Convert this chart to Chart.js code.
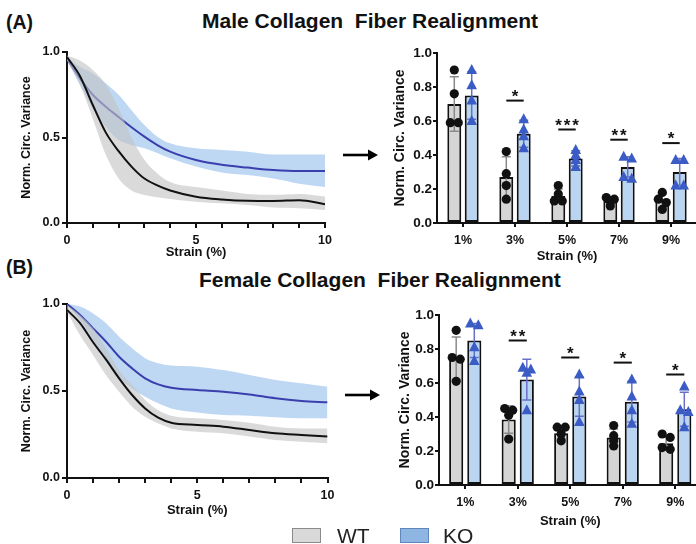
<!DOCTYPE html>
<html>
<head>
<meta charset="utf-8">
<script src="https://cdn.jsdelivr.net/npm/chart.js@4.4.1/dist/chart.umd.min.js"></script>
<style>
  html, body { margin:0; padding:0; }
  body { width:696px; height:544px; overflow:hidden; position:relative; background:#fff;
         font-family:'Liberation Sans', Arial, sans-serif; color:#111; }
  .abs { position:absolute; }
  .panel { position:absolute; font-weight:bold; font-size:19.5px; line-height:19.5px; white-space:nowrap; }
  .title { position:absolute; font-weight:bold; font-size:21px; line-height:21px; white-space:nowrap; }
  .legtxt { position:absolute; font-size:21px; line-height:21px; color:#222; }
  .box { position:absolute; width:27px; height:13px; }
  canvas { display:block; }
</style>
</head>
<body>
<div class="panel" style="left:6px;top:13px">(A)</div>
<div class="title" style="left:202px;top:10px">Male Collagen&nbsp; Fiber Realignment</div>
<div class="panel" style="left:6px;top:258px">(B)</div>
<div class="title" style="left:199px;top:269px">Female Collagen&nbsp; Fiber Realignment</div>

<div class="abs" style="left:0;top:40px;width:340px;height:230px"><canvas id="lineA" width="340" height="230"></canvas></div>
<div class="abs" style="left:340px;top:40px;width:358px;height:230px"><canvas id="barA" width="358" height="230"></canvas></div>
<div class="abs" style="left:0;top:290px;width:340px;height:230px"><canvas id="lineB" width="340" height="230"></canvas></div>
<div class="abs" style="left:340px;top:290px;width:362px;height:244px"><canvas id="barB" width="362" height="244"></canvas></div>

<svg class="abs" style="left:340px;top:148px" width="42" height="14">
  <line x1="3" y1="7" x2="30" y2="7" stroke="#000" stroke-width="2.6"/>
  <polygon points="28,1.5 38,7 28,12.5" fill="#000"/>
</svg>
<svg class="abs" style="left:342px;top:388px" width="42" height="14">
  <line x1="3" y1="7" x2="30" y2="7" stroke="#000" stroke-width="2.6"/>
  <polygon points="28,1.5 38,7 28,12.5" fill="#000"/>
</svg>

<div class="box" style="left:292px;top:528px;background:#d9d9d9;border:1px solid #8a8a8a"></div>
<div class="legtxt" style="left:337px;top:525px">WT</div>
<div class="box" style="left:400px;top:528px;background:#8fb5e3;border:1px solid #5f86bd"></div>
<div class="legtxt" style="left:443px;top:525px">KO</div>

<script>
// ---------- DATA ----------
const strainX = [0, 0.5, 1, 1.5, 2, 2.5, 3, 3.5, 4, 5, 6, 7, 8, 9, 10];

const maleWTMean  = [0.97, 0.86, 0.69, 0.53, 0.42, 0.33, 0.26, 0.22, 0.19, 0.154, 0.138, 0.13, 0.129, 0.133, 0.11];
const maleWTUpper = [0.98, 0.95, 0.895, 0.81, 0.67, 0.50, 0.37, 0.29, 0.24, 0.21, 0.19, 0.17, 0.165, 0.17, 0.155];
const maleWTLower = [0.95, 0.81, 0.61, 0.40, 0.26, 0.19, 0.164, 0.15, 0.14, 0.125, 0.115, 0.105, 0.09, 0.086, 0.076];
const maleKOMean  = [0.96, 0.846, 0.75, 0.68, 0.62, 0.56, 0.505, 0.456, 0.417, 0.368, 0.34, 0.324, 0.31, 0.304, 0.304];
const maleKOUpper = [0.97, 0.914, 0.875, 0.817, 0.75, 0.66, 0.573, 0.505, 0.466, 0.437, 0.427, 0.417, 0.40, 0.40, 0.40];
const maleKOLower = [0.953, 0.807, 0.67, 0.563, 0.485, 0.456, 0.437, 0.41, 0.378, 0.33, 0.296, 0.28, 0.26, 0.23, 0.21];

const femaleWTMean  = [0.966, 0.89, 0.78, 0.68, 0.573, 0.477, 0.40, 0.347, 0.318, 0.305, 0.295, 0.276, 0.257, 0.247, 0.238];
const femaleWTUpper = [0.994, 0.937, 0.86, 0.745, 0.62, 0.534, 0.448, 0.39, 0.358, 0.343, 0.333, 0.318, 0.295, 0.285, 0.285];
const femaleWTLower = [0.956, 0.82, 0.707, 0.59, 0.496, 0.41, 0.352, 0.314, 0.285, 0.266, 0.257, 0.238, 0.218, 0.209, 0.20];
const femaleKOMean  = [1.0, 0.937, 0.86, 0.783, 0.697, 0.63, 0.573, 0.538, 0.519, 0.506, 0.496, 0.48, 0.458, 0.443, 0.435];
const femaleKOUpper = [1.0, 0.985, 0.946, 0.889, 0.812, 0.745, 0.688, 0.659, 0.646, 0.64, 0.62, 0.592, 0.563, 0.544, 0.525];
const femaleKOLower = [0.994, 0.908, 0.793, 0.669, 0.573, 0.515, 0.467, 0.429, 0.40, 0.377, 0.362, 0.358, 0.349, 0.343, 0.343];

const strainCategories = ['1%', '3%', '5%', '7%', '9%'];

const maleBarWTMean = [0.70, 0.27, 0.16, 0.13, 0.13];
const maleBarWTSD   = [0.16, 0.12, 0.04, 0.02, 0.04];
const maleBarKOMean = [0.75, 0.525, 0.38, 0.33, 0.30];
const maleBarKOSD   = [0.14, 0.08, 0.045, 0.06, 0.08];
const maleBarWTPoints = [[0.90, 0.76, 0.59, 0.59], [0.42, 0.29, 0.22, 0.14], [0.22, 0.17, 0.13, 0.13], [0.15, 0.14, 0.13, 0.10], [0.18, 0.14, 0.12, 0.08]];
const maleBarKOPoints = [[0.90, 0.81, 0.72, 0.60], [0.61, 0.55, 0.51, 0.44], [0.43, 0.40, 0.37, 0.33], [0.39, 0.38, 0.27, 0.26], [0.37, 0.37, 0.22, 0.22]];
const maleSigText  = ['', '*', '***', '**', '*'];
const maleSigLevel = [null, 0.72, 0.55, 0.49, 0.47];

const femaleBarWTMean = [0.745, 0.385, 0.305, 0.28, 0.245];
const femaleBarWTSD   = [0.125, 0.08, 0.035, 0.05, 0.04];
const femaleBarKOMean = [0.85, 0.62, 0.52, 0.49, 0.445];
const femaleBarKOSD   = [0.10, 0.12, 0.115, 0.12, 0.10];
const femaleBarWTPoints = [[0.91, 0.75, 0.74, 0.61], [0.45, 0.44, 0.41, 0.27], [0.34, 0.34, 0.30, 0.26], [0.35, 0.29, 0.26, 0.23], [0.30, 0.28, 0.22, 0.21]];
const femaleBarKOPoints = [[0.95, 0.94, 0.81, 0.73], [0.69, 0.68, 0.66, 0.44], [0.65, 0.55, 0.50, 0.37], [0.62, 0.52, 0.44, 0.36], [0.58, 0.44, 0.43, 0.34]];
const femaleSigText  = ['', '**', '*', '*', '*'];
const femaleSigLevel = [null, 0.85, 0.75, 0.72, 0.65];

// ---------- STYLE ----------
const FONT = "'Liberation Sans', Arial, sans-serif";
const C_GRAY_BAND = 'rgba(196,196,196,0.62)';
const C_BLUE_BAND = 'rgba(150,190,236,0.62)';
const C_BLUE_LINE = '#3b3fae';
const C_WT_BAR = '#d5d5d5';
const C_KO_BAR = '#b9d5f1';
const C_TRI = '#3b5cc4';

function pts(ys) { return strainX.map((x, i) => ({x: x, y: ys[i]})); }

function makeLine(id, geo, wtM, wtU, wtL, koM, koU, koL) {
  const base = {pointRadius: 0, cubicInterpolationMode: 'monotone', borderWidth: 0};
  new Chart(document.getElementById(id), {
    type: 'line',
    data: {
      datasets: [
        Object.assign({}, base, {data: pts(koL), order: 6, fill: false, borderColor: 'rgba(0,0,0,0)'}),
        Object.assign({}, base, {data: pts(koU), order: 5, fill: 0, backgroundColor: C_BLUE_BAND, borderColor: 'rgba(0,0,0,0)'}),
        Object.assign({}, base, {data: pts(koM), order: 4, fill: false, borderColor: C_BLUE_LINE, borderWidth: 2}),
        Object.assign({}, base, {data: pts(wtL), order: 3, fill: false, borderColor: 'rgba(0,0,0,0)'}),
        Object.assign({}, base, {data: pts(wtU), order: 2, fill: 3, backgroundColor: C_GRAY_BAND, borderColor: 'rgba(0,0,0,0)'}),
        Object.assign({}, base, {data: pts(wtM), order: 1, fill: false, borderColor: '#111', borderWidth: 2})
      ]
    },
    options: {
      responsive: false, animation: false,
      layout: {padding: {left: 0, top: geo.top, right: geo.right, bottom: 0}},
      plugins: {legend: {display: false}, tooltip: {enabled: false}},
      scales: {
        x: {
          type: 'linear', min: 0, max: 10,
          afterFit: s => { s.height = geo.xh; },
          border: {display: true, color: '#111', width: 2},
          grid: {drawOnChartArea: false, drawTicks: true, tickLength: 5, color: '#111', lineWidth: 2},
          ticks: {stepSize: 1, autoSkip: false, maxRotation: 0, padding: geo.xtp, color: '#111',
                  font: {family: FONT, size: 12.5, weight: 'bold'},
                  callback: v => (v % 5 === 0 ? String(v) : '')},
          title: {display: true, text: 'Strain (%)', color: '#111',
                  font: {family: FONT, size: 13, weight: 'bold'}, padding: {top: 0, bottom: geo.xtitle}}
        },
        y: {
          min: 0, max: 1,
          afterFit: s => { s.width = geo.left; },
          border: {display: true, color: '#111', width: 2},
          grid: {drawOnChartArea: false, drawTicks: true, tickLength: 5, color: '#111', lineWidth: 2},
          ticks: {stepSize: 0.5, padding: 2, color: '#111',
                  font: {family: FONT, size: 12.5, weight: 'bold'},
                  callback: v => v.toFixed(1)},
          title: {display: true, text: 'Norm. Circ. Variance', color: '#111',
                  font: {family: FONT, size: 12.5, weight: 'bold'}, padding: {top: geo.ytitle, bottom: 0}}
        }
      }
    }
  });
}

const barExtras = {
  id: 'barExtras',
  afterDatasetsDraw(chart, args, opts) {
    const ctx = chart.ctx;
    const ys = chart.scales.y;
    const wtMeta = chart.getDatasetMeta(0), koMeta = chart.getDatasetMeta(1);
    const groups = [
      {meta: wtMeta, mean: opts.wtMean, sd: opts.wtSD, points: opts.wtPoints, errColor: '#8a8a8a', kind: 'circle'},
      {meta: koMeta, mean: opts.koMean, sd: opts.koSD, points: opts.koPoints, errColor: '#6a70c8', kind: 'tri'}
    ];
    groups.forEach(g => {
      g.meta.data.forEach((bar, i) => {
        const x = bar.x;
        const yTop = ys.getPixelForValue(g.mean[i] + g.sd[i]);
        const yBot = ys.getPixelForValue(g.mean[i] - g.sd[i]);
        ctx.save();
        ctx.strokeStyle = g.errColor; ctx.lineWidth = 1.5;
        ctx.beginPath();
        ctx.moveTo(x, yTop); ctx.lineTo(x, yBot);
        ctx.moveTo(x - 4.5, yTop); ctx.lineTo(x + 4.5, yTop);
        ctx.moveTo(x - 4.5, yBot); ctx.lineTo(x + 4.5, yBot);
        ctx.stroke();
        ctx.restore();
        // place near-equal values side by side (small horizontal spread)
        const vals = g.points[i].slice().sort((a, b) => b - a);
        const clusters = [];
        vals.forEach(v => {
          const last = clusters[clusters.length - 1];
          if (last && Math.abs(last[last.length - 1] - v) < 0.025 && last.length < 2) last.push(v); else clusters.push([v]);
        });
        clusters.forEach(cl => {
          cl.forEach((v, k) => {
            const dx = (k - (cl.length - 1) / 2) * 8;
            const px = x + dx, py = ys.getPixelForValue(v);
            ctx.save();
            if (g.kind === 'circle') {
              ctx.fillStyle = '#111';
              ctx.beginPath(); ctx.arc(px, py, 4.6, 0, Math.PI * 2); ctx.fill();
            } else {
              ctx.fillStyle = C_TRI;
              ctx.beginPath();
              ctx.moveTo(px, py - 6); ctx.lineTo(px + 5.3, py + 4); ctx.lineTo(px - 5.3, py + 4);
              ctx.closePath(); ctx.fill();
            }
            ctx.restore();
          });
        });
      });
    });
    // significance
    opts.sigText.forEach((t, i) => {
      if (!t) return;
      const x1 = wtMeta.data[i].x, x2 = koMeta.data[i].x;
      const y = ys.getPixelForValue(opts.sigLevel[i]);
      ctx.save();
      ctx.strokeStyle = '#111'; ctx.lineWidth = 2;
      ctx.beginPath(); ctx.moveTo(x1, y); ctx.lineTo(x2, y); ctx.stroke();
      ctx.fillStyle = '#111';
      ctx.font = 'bold 17px ' + FONT;
      ctx.textAlign = 'center'; ctx.textBaseline = 'alphabetic';
      const cx = (x1 + x2) / 2, n = t.length, sp = 8.5;
      for (let k = 0; k < n; k++) ctx.fillText('*', cx + (k - (n - 1) / 2) * sp, y + 1);
      ctx.restore();
    });
  }
};

function makeBar(id, geo, wtMean, wtSD, koMean, koSD, wtPoints, koPoints, sigText, sigLevel) {
  new Chart(document.getElementById(id), {
    type: 'bar',
    plugins: [barExtras],
    data: {
      labels: strainCategories,
      datasets: [
        {data: wtMean, backgroundColor: C_WT_BAR, borderColor: '#111', borderWidth: 2, borderSkipped: false,
         categoryPercentage: geo.cat, barPercentage: geo.bar},
        {data: koMean, backgroundColor: C_KO_BAR, borderColor: '#111', borderWidth: 2, borderSkipped: false,
         categoryPercentage: geo.cat, barPercentage: geo.bar}
      ]
    },
    options: {
      responsive: false, animation: false,
      layout: {padding: {left: 0, top: geo.top, right: geo.right, bottom: 0}},
      plugins: {legend: {display: false}, tooltip: {enabled: false},
        barExtras: {wtMean: wtMean, wtSD: wtSD, koMean: koMean, koSD: koSD, wtPoints: wtPoints, koPoints: koPoints,
                    sigText: sigText, sigLevel: sigLevel}},
      scales: {
        x: {
          afterFit: s => { s.height = geo.xh; },
          border: {display: true, color: '#111', width: 2},
          grid: {offset: false, drawOnChartArea: false, drawTicks: true, tickLength: 4, color: '#111', lineWidth: 2},
          ticks: {padding: geo.xtp, color: '#111', font: {family: FONT, size: 12.5, weight: 'bold'}},
          title: {display: true, text: 'Strain (%)', color: '#111',
                  font: {family: FONT, size: 13, weight: 'bold'}, padding: {top: 0, bottom: geo.xtitle}}
        },
        y: {
          min: 0, max: 1,
          afterFit: s => { s.width = geo.left; },
          border: {display: true, color: '#111', width: 2},
          grid: {drawOnChartArea: false, drawTicks: true, tickLength: 4, color: '#111', lineWidth: 2},
          ticks: {stepSize: 0.2, padding: 1, color: '#111',
                  font: {family: FONT, size: 13.5, weight: 'bold'},
                  callback: v => v.toFixed(1)},
          title: {display: true, text: 'Norm. Circ. Variance', color: '#111',
                  font: {family: FONT, size: 14, weight: 'bold'}, padding: {top: geo.ytitle, bottom: 0}}
        }
      }
    }
  });
}

makeLine('lineA', {top: 12, right: 15, left: 67, xh: 47, xtp: 5, xtitle: 10, ytitle: 19.5},
         maleWTMean, maleWTUpper, maleWTLower, maleKOMean, maleKOUpper, maleKOLower);
makeLine('lineB', {top: 14, right: 12, left: 67, xh: 42, xtp: 5.5, xtitle: 2, ytitle: 19.5},
         femaleWTMean, femaleWTUpper, femaleWTLower, femaleKOMean, femaleKOUpper, femaleKOLower);
makeBar('barA', {top: 13, right: 1, left: 97, xh: 47, xtp: 6.5, xtitle: 5.5, ytitle: 51.6, cat: 0.67, bar: 0.8},
        maleBarWTMean, maleBarWTSD, maleBarKOMean, maleBarKOSD, maleBarWTPoints, maleBarKOPoints, maleSigText, maleSigLevel);
makeBar('barB', {top: 25, right: 0.5, left: 99, xh: 49, xtp: 6.5, xtitle: 4.5, ytitle: 56.6, cat: 0.69, bar: 0.78},
        femaleBarWTMean, femaleBarWTSD, femaleBarKOMean, femaleBarKOSD, femaleBarWTPoints, femaleBarKOPoints, femaleSigText, femaleSigLevel);
</script>
</body>
</html>
